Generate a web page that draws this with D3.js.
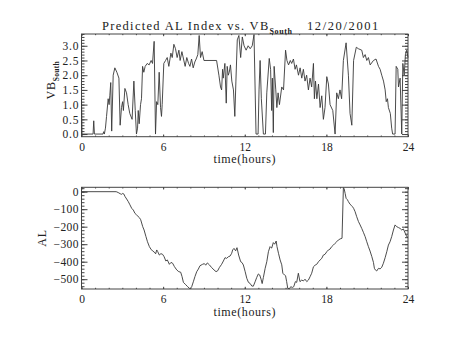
<!DOCTYPE html>
<html>
<head>
<meta charset="utf-8">
<script src="https://cdn.jsdelivr.net/npm/d3@7"></script>
<style>
  html, body { margin: 0; padding: 0; background: #fff; }
  svg { display: block; }
  text { font-family: "Liberation Serif", "DejaVu Serif", serif; fill: #222; }
  .tick line { stroke: #444; }
</style>
</head>
<body>
<svg id="chart" width="454" height="341"></svg>
<script>
// Solar-wind driver VB_South (mV/m) for 12/20/2001
const vbTime = [0.00,0.04,0.85,0.90,0.95,1.58,1.63,1.68,1.76,1.84,1.96,2.03,2.08,2.15,2.22,2.33,2.45,2.60,2.75,2.84,
  2.94,3.02,3.08,3.19,3.31,3.43,3.55,3.72,3.85,3.95,4.04,4.12,4.17,4.24,4.34,4.41,4.49,4.58,4.68,4.83,
  4.97,5.12,5.22,5.34,5.44,5.52,5.61,5.71,5.81,5.88,5.93,6.05,6.18,6.30,6.42,6.57,6.67,6.79,6.91,7.03,
  7.16,7.25,7.38,7.50,7.62,7.74,7.87,7.97,8.09,8.21,8.33,8.43,8.55,8.65,8.75,8.87,9.00,9.93,10.10,10.22,
  10.30,10.37,10.42,10.54,10.64,10.71,10.79,10.86,10.95,11.05,11.17,11.27,11.35,11.45,11.57,11.70,11.82,11.95,12.10,12.25,
  12.40,12.55,12.68,12.83,12.98,13.05,13.13,13.22,13.37,13.52,13.62,13.80,13.90,13.98,14.03,14.10,14.16,14.28,14.36,14.45,
  14.55,14.72,14.85,15.00,15.10,15.22,15.35,15.45,15.58,15.70,15.80,15.95,16.07,16.19,16.31,16.43,16.55,16.68,16.80,16.92,
  17.05,17.12,17.20,17.30,17.42,17.54,17.66,17.78,17.90,18.03,18.15,18.27,18.47,18.64,18.76,18.88,19.00,19.12,19.25,19.45,
  19.62,19.74,19.87,20.00,20.20,20.35,20.60,20.72,20.85,20.97,21.09,21.22,21.46,21.65,21.83,21.95,22.07,22.20,22.32,22.40,
  22.49,22.56,22.70,22.80,22.87,23.05,23.13,23.25,23.30,23.42,23.54,23.62,23.72,23.81,23.91,24.00];
const vbSouth = [1.20,0.00,0.00,0.45,0.00,0.00,0.08,0.00,0.20,0.60,1.20,1.00,1.30,1.75,0.10,2.00,2.25,2.10,1.90,0.30,
  0.90,1.10,0.80,1.55,1.40,1.00,0.70,0.50,1.80,0.80,0.00,0.20,0.80,0.35,1.00,1.20,2.30,2.10,2.30,2.40,
  2.35,2.50,2.40,3.15,0.00,1.10,1.00,2.10,0.90,0.60,1.00,2.40,2.50,2.60,2.30,2.75,2.60,3.05,2.90,2.60,
  2.85,2.50,2.80,2.55,2.30,2.60,2.40,2.30,2.55,2.25,2.45,2.55,2.70,3.35,2.60,2.80,2.50,2.50,2.00,1.60,
  1.50,2.20,1.90,2.40,1.05,2.30,2.00,2.10,2.35,1.80,1.50,0.60,1.80,3.20,3.35,2.60,3.30,3.00,2.85,3.00,
  2.90,3.00,3.38,0.00,0.00,1.50,2.50,1.20,0.00,0.00,1.40,2.57,2.20,0.80,1.90,0.05,2.30,1.50,0.90,1.40,
  1.00,1.60,1.50,2.85,2.50,2.35,2.50,2.40,2.55,2.20,2.35,2.00,2.25,1.90,2.20,1.80,2.00,1.50,1.90,1.60,
  2.40,1.20,1.80,1.20,1.70,0.90,1.30,0.50,0.90,1.95,1.70,1.00,0.80,0.00,1.40,1.20,1.50,1.20,2.50,3.10,
  2.00,0.70,0.30,2.50,2.95,2.90,2.85,2.60,2.70,2.50,2.60,2.35,2.50,2.55,2.30,2.20,2.00,1.80,1.50,1.10,
  1.20,0.90,0.70,0.20,0.00,0.00,2.30,2.20,1.60,1.90,0.00,2.40,2.00,2.70,2.85,2.60];

// Predicted AL index (nT)
const alTime = [0.00,2.55,2.70,2.85,2.95,3.03,3.12,3.20,3.32,3.44,3.56,3.69,3.81,3.93,4.05,4.25,4.35,4.50,4.60,4.74,
  4.85,4.99,5.10,5.23,5.35,5.45,5.53,5.60,5.72,5.84,5.96,6.07,6.20,6.31,6.46,6.58,6.70,6.83,7.00,7.15,
  7.29,7.39,7.49,7.63,7.78,7.93,7.98,8.10,8.22,8.34,8.47,8.59,8.71,8.90,9.03,9.13,9.25,9.40,9.57,9.74,
  9.89,10.01,10.13,10.30,10.43,10.55,10.67,10.79,10.92,11.04,11.11,11.21,11.33,11.43,11.55,11.70,11.80,11.90,12.03,12.15,
  12.27,12.39,12.52,12.63,12.76,12.88,13.00,13.10,13.20,13.28,13.37,13.50,13.62,13.74,13.86,13.93,13.98,14.10,14.20,14.31,
  14.37,14.48,14.60,14.72,14.80,14.92,15.00,15.08,15.16,15.28,15.38,15.50,15.60,15.72,15.82,15.94,16.06,16.19,16.31,16.43,
  16.56,16.68,16.80,16.92,17.05,17.17,17.29,17.42,17.54,17.66,17.78,17.90,18.03,18.15,18.27,18.39,18.52,18.64,18.76,18.88,
  19.01,19.15,19.25,19.30,19.38,19.45,19.54,19.62,19.74,19.83,19.92,20.00,20.11,20.23,20.36,20.48,20.60,20.72,20.85,20.97,
  21.09,21.21,21.34,21.46,21.53,21.60,21.70,21.83,21.95,22.07,22.19,22.32,22.44,22.56,22.68,22.80,22.93,23.05,23.17,23.30,
  23.42,23.54,23.66,23.80,23.91,24.00];
const alIndex = [0,0,-5,-12,-15,-10,-14,-28,-42,-57,-75,-95,-105,-124,-133,-148,-160,-200,-219,-257,
  -286,-314,-328,-339,-345,-355,-333,-342,-362,-354,-358,-371,-396,-390,-415,-404,-409,-428,-447,-457,
  -460,-485,-518,-529,-541,-552,-555,-543,-515,-485,-457,-442,-423,-415,-411,-420,-407,-418,-434,-447,
  -457,-452,-434,-415,-396,-377,-381,-372,-368,-352,-333,-324,-338,-320,-362,-400,-405,-419,-457,-495,
  -518,-524,-539,-540,-515,-490,-470,-476,-500,-525,-490,-438,-400,-343,-314,-320,-322,-291,-300,-282,
  -314,-352,-390,-418,-466,-476,-480,-514,-552,-555,-543,-547,-543,-514,-518,-466,-514,-505,-510,-500,
  -514,-505,-486,-466,-429,-420,-415,-400,-390,-381,-362,-358,-343,-333,-328,-314,-305,-295,-286,-276,
  -270,-266,22,19,-10,-38,-45,-57,-72,-78,-86,-95,-114,-143,-171,-190,-210,-232,-257,-286,
  -314,-339,-371,-404,-438,-447,-453,-438,-441,-432,-409,-377,-343,-305,-286,-257,-219,-190,-200,-205,
  -210,-219,-213,-238,-257,-262];

const hourTicks = [0, 6, 12, 18, 24];
const vbTicks = [0.0, 0.5, 1.0, 1.5, 2.0, 2.5, 3.0];
const alTicks = [0, -100, -200, -300, -400, -500];

const svg = d3.select("#chart");
svg.append("rect").attr("width", 454).attr("height", 341).attr("fill", "#fff");

const left = 81.5, right = 408;
const x = d3.scaleLinear().domain([0, 24]).range([left, right]);

function panel(cfg) {
  const y = d3.scaleLinear().domain(cfg.domain).range([cfg.bottom, cfg.top]);
  const g = svg.append("g");

  const minorX = d3.range(0, 25, 1);
  const [d0, d1] = cfg.domain;
  const minorY = d3.range(Math.ceil(d0 / cfg.minorStep) * cfg.minorStep, d1 + 1e-9, cfg.minorStep)
    .map(v => +v.toFixed(4));

  function axis(gen, transform) {
    const a = g.append("g").attr("transform", transform).call(gen);
    a.select(".domain").remove();
    a.selectAll("text").attr("fill", "#222").style("font-size", "11.5px")
      .style("font-family", '"Liberation Serif", serif');
    return a;
  }

  // minor ticks (inward)
  axis(d3.axisBottom(x).tickValues(minorX).tickSize(-1.2).tickFormat(""), `translate(0,${cfg.bottom})`);
  axis(d3.axisTop(x).tickValues(minorX).tickSize(-1.2).tickFormat(""), `translate(0,${cfg.top})`);
  axis(d3.axisLeft(y).tickValues(minorY).tickSize(-3).tickFormat(""), `translate(${left},0)`);
  axis(d3.axisRight(y).tickValues(minorY).tickSize(-3).tickFormat(""), `translate(${right},0)`);

  // major ticks with labels
  axis(d3.axisBottom(x).tickValues(hourTicks).tickSize(-2.2).tickPadding(6).tickFormat(d3.format("d")),
    `translate(0,${cfg.bottom})`);
  axis(d3.axisTop(x).tickValues(hourTicks).tickSize(-2.2).tickFormat(""), `translate(0,${cfg.top})`);
  const yl = axis(d3.axisLeft(y).tickValues(cfg.ticks).tickSize(-6).tickPadding(3).tickFormat(cfg.fmt),
    `translate(${left},0)`);
  yl.selectAll("text").style("letter-spacing", cfg.ls).attr("dx", cfg.ls);
  axis(d3.axisRight(y).tickValues(cfg.ticks).tickSize(-6).tickFormat(""), `translate(${right},0)`);

  // frame
  g.append("rect")
    .attr("x", left).attr("y", cfg.top)
    .attr("width", right - left).attr("height", cfg.bottom - cfg.top)
    .attr("fill", "none").attr("stroke", "#444").attr("stroke-width", 1);

  // data line
  const pts = cfg.t.map((t, i) => [t, cfg.v[i]]);
  g.append("path")
    .datum(pts)
    .attr("fill", "none")
    .attr("stroke", "#383838")
    .attr("stroke-width", 0.9)
    .attr("stroke-linejoin", "round")
    .attr("d", d3.line().x(d => x(d[0])).y(d => y(Math.max(cfg.domain[0], Math.min(cfg.domain[1], d[1])))));

  // x title
  g.append("text")
    .attr("x", (left + right) / 2).attr("y", cfg.bottom + 26.5)
    .attr("text-anchor", "middle")
    .style("font-size", "12px").style("letter-spacing", "0.6px")
    .text("time(hours)");
  return { g, y };
}

panel({ domain: [-0.09, 3.4], top: 34, bottom: 136.7, minorStep: 0.1, ticks: vbTicks,
  fmt: d3.format(".1f"), ls: "0.8px", t: vbTime, v: vbSouth });
panel({ domain: [-556, 25], top: 187.3, bottom: 289, minorStep: 20, ticks: alTicks,
  fmt: d3.format("d"), ls: "0.4px", t: alTime, v: alIndex });

// y titles
const vbLab = svg.append("text")
  .attr("transform", "translate(55,99.5) rotate(-90)")
  .style("font-size", "12px").style("letter-spacing", "0.8px");
vbLab.append("tspan").text("VB");
vbLab.append("tspan").attr("dy", 4).style("font-size", "7.5px").style("font-weight", "bold")
  .style("letter-spacing", "0.3px").text("South");

svg.append("text")
  .attr("transform", "translate(46,238) rotate(-90)")
  .attr("text-anchor", "middle")
  .style("font-size", "12px").style("letter-spacing", "0.8px")
  .text("AL");

// main title
const title = svg.append("text")
  .attr("x", 102).attr("y", 29.5)
  .style("font-size", "12.5px").style("letter-spacing", "1.3px");
title.append("tspan").text("Predicted AL Index vs. VB");
title.append("tspan").attr("dy", 4.5).style("font-size", "8px").style("font-weight", "bold")
  .style("letter-spacing", "0.6px").text("South");
title.append("tspan").attr("dy", -4.5).attr("x", 307).style("letter-spacing", "1.6px").text("12/20/2001");
</script>
</body>
</html>
